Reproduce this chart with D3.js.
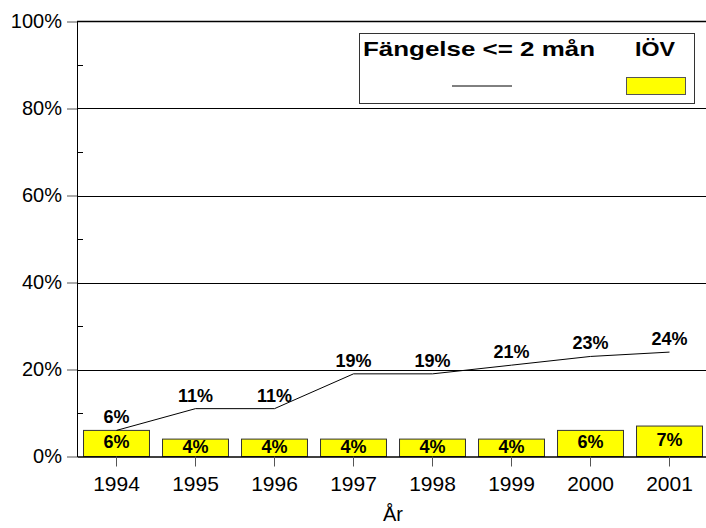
<!DOCTYPE html>
<html>
<head>
<meta charset="utf-8">
<script src="https://cdn.jsdelivr.net/npm/d3@7"></script>
<style>
    body { margin: 0; background: #fff; }
    svg { display: block; font-family: "Liberation Sans", Arial, sans-serif; }
</style>
</head>
<body>
<svg id="chart" width="706" height="528"></svg>
<script>
// data
const years    = ["1994", "1995", "1996", "1997", "1998", "1999", "2000", "2001"];
const fangelse = [6, 11, 11, 19, 19, 21, 23, 24];   // line, Fängelse <= 2 mån
const iov      = [6, 4, 4, 4, 4, 4, 6, 7];          // bars, IÖV
const yTicks   = [0, 20, 40, 60, 80, 100];
const yMinor   = [10, 30, 50, 70, 90];
const seriesNames = ["Fängelse <= 2 mån", "IÖV"];
const xTitle = "År";

const svg = d3.select("#chart");

const plotLeft = 77, plotRight = 709, plotTop = 21.5, plotBottom = 456.5;

const x = d3.scaleBand()
    .domain(years)
    .range([plotLeft, plotRight])
    .paddingInner(0.165)
    .paddingOuter(0.0825);

const y = d3.scaleLinear()
    .domain([0, 100])
    .range([plotBottom, plotTop]);

const cx = d => x(d) + x.bandwidth() / 2;
const pct = d => d + "%";

// gridlines
svg.append("g")
    .selectAll("line")
    .data(yTicks.filter(t => t > 0 && t < 100))
    .join("line")
    .attr("x1", plotLeft).attr("x2", plotRight)
    .attr("y1", d => Math.round(y(d)) + 0.5)
    .attr("y2", d => Math.round(y(d)) + 0.5)
    .attr("stroke", "#000")
    .attr("stroke-width", 1);

// top frame line
svg.append("line")
    .attr("x1", plotLeft).attr("x2", plotRight)
    .attr("y1", y(100)).attr("y2", y(100))
    .attr("stroke", "#000")
    .attr("stroke-width", 1.6);

// bars
const rows = years.map((yr, i) => ({ yr, bar: iov[i], line: fangelse[i] }));

svg.append("g")
    .selectAll("rect")
    .data(rows)
    .join("rect")
    .attr("x", d => x(d.yr))
    .attr("y", d => y(d.bar))
    .attr("width", x.bandwidth())
    .attr("height", d => y(0) - y(d.bar))
    .attr("fill", "#ffff00")
    .attr("stroke", "#333")
    .attr("stroke-width", 1);

svg.append("g")
    .selectAll("text")
    .data(rows)
    .join("text")
    .attr("x", d => cx(d.yr))
    .attr("y", d => (y(d.bar) + y(0)) / 2 + 5)
    .attr("text-anchor", "middle")
    .style("font", "bold 18px 'Liberation Sans', Arial, sans-serif")
    .attr("fill", "#000")
    .text(d => pct(d.bar));

// line
const line = d3.line()
    .x(d => cx(d.yr))
    .y(d => y(d.line));

svg.append("path")
    .datum(rows)
    .attr("fill", "none")
    .attr("stroke", "#000")
    .attr("stroke-width", 1)
    .attr("d", line);

svg.append("g")
    .selectAll("text")
    .data(rows)
    .join("text")
    .attr("x", d => cx(d.yr))
    .attr("y", d => y(d.line) - 7)
    .attr("text-anchor", "middle")
    .style("font", "bold 18px 'Liberation Sans', Arial, sans-serif")
    .attr("fill", "#000")
    .text(d => pct(d.line));

// y axis
const yAxisG = svg.append("g")
    .attr("transform", `translate(${plotLeft},0)`)
    .call(d3.axisLeft(y).tickValues(yTicks).tickSize(10).tickSizeOuter(0).tickPadding(5).tickFormat(pct));
yAxisG.select(".domain").attr("stroke", "#000");
yAxisG.selectAll(".tick line").attr("stroke", "#555");
yAxisG.selectAll("text")
    .style("font", "20px 'Liberation Sans', Arial, sans-serif")
    .attr("fill", "#000");

svg.append("g")
    .attr("transform", `translate(${plotLeft},0)`)
    .call(d3.axisRight(y).tickValues(yMinor).tickSize(6).tickFormat(""))
    .call(g => g.select(".domain").remove())
    .selectAll(".tick line").attr("stroke", "#000");

// x axis
const xAxisG = svg.append("g")
    .attr("transform", `translate(0,${plotBottom})`)
    .call(d3.axisBottom(x).tickSize(10).tickSizeOuter(0).tickPadding(10));
xAxisG.select(".domain").attr("stroke", "#000").attr("stroke-width", 1.3);
xAxisG.selectAll(".tick line").attr("stroke", "#555");
xAxisG.selectAll("text")
    .style("font", "21px 'Liberation Sans', Arial, sans-serif")
    .attr("fill", "#000");

svg.append("text")
    .attr("x", (plotLeft + plotRight) / 2)
    .attr("y", 521)
    .attr("text-anchor", "middle")
    .style("font", "20px 'Liberation Sans', Arial, sans-serif")
    .text(xTitle);

// legend
const legend = svg.append("g");
legend.append("rect")
    .attr("x", 359.5).attr("y", 33.5)
    .attr("width", 335).attr("height", 70)
    .attr("fill", "#fff")
    .attr("stroke", "#333")
    .attr("stroke-width", 1);

legend.append("text")
    .attr("x", 363).attr("y", 56)
    .attr("textLength", 232)
    .attr("lengthAdjust", "spacingAndGlyphs")
    .style("font", "bold 21px 'Liberation Sans', Arial, sans-serif")
    .text(seriesNames[0]);

legend.append("line")
    .attr("x1", 452).attr("x2", 512)
    .attr("y1", 86).attr("y2", 86)
    .attr("stroke", "#000")
    .attr("stroke-width", 1);

legend.append("text")
    .attr("x", 635).attr("y", 56)
    .attr("textLength", 40)
    .attr("lengthAdjust", "spacingAndGlyphs")
    .style("font", "bold 21px 'Liberation Sans', Arial, sans-serif")
    .text(seriesNames[1]);

legend.append("rect")
    .attr("x", 626.5).attr("y", 77.5)
    .attr("width", 59).attr("height", 17)
    .attr("fill", "#ffff00")
    .attr("stroke", "#555")
    .attr("stroke-width", 1);
</script>
</body>
</html>
